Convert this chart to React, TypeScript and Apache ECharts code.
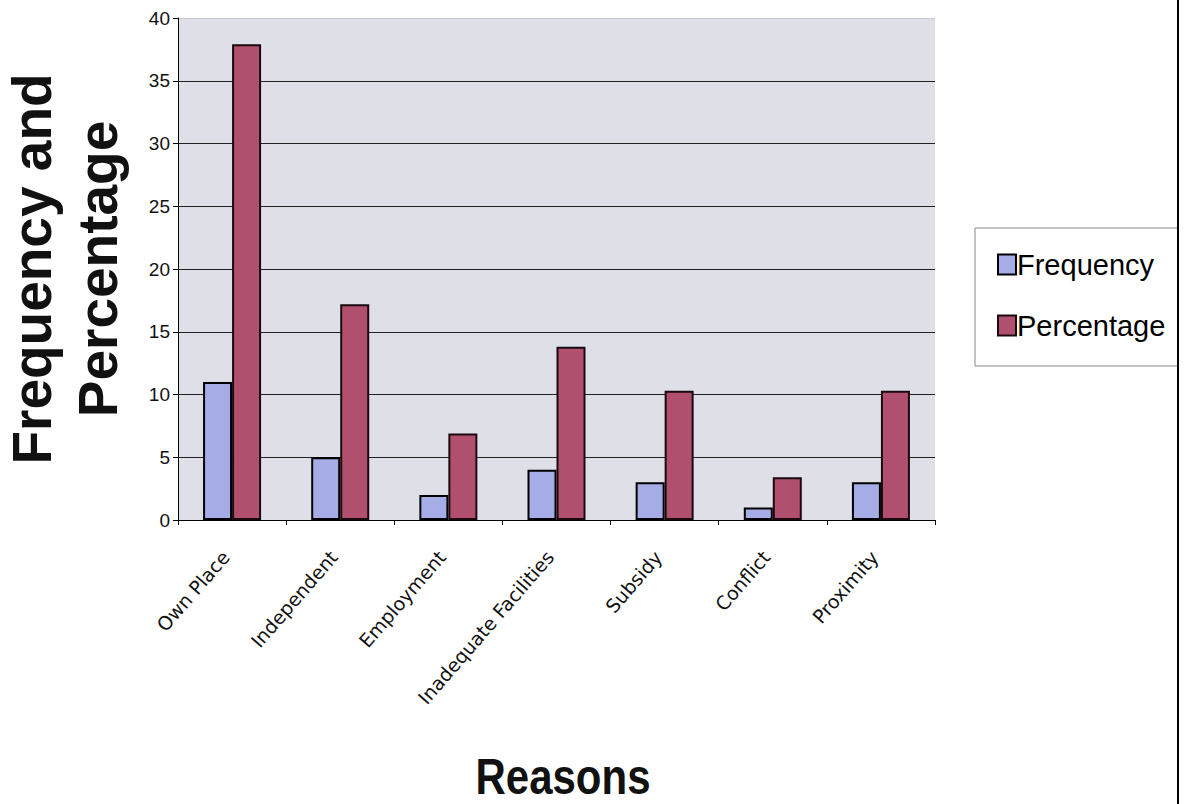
import React, { useEffect, useRef } from "react";
import * as echarts from "echarts";

const categories = ["Own Place", "Independent", "Employment", "Inadequate Facilities", "Subsidy", "Conflict", "Proximity"];
const frequency = [11, 5, 2, 4, 3, 1, 3];
const percentage = [37.9, 17.2, 6.9, 13.8, 10.3, 3.4, 10.3];
const yTicks = [0, 5, 10, 15, 20, 25, 30, 35, 40];

export default function App() {
  const ref = useRef<HTMLDivElement>(null);
  useEffect(() => {
    if (!ref.current) return;
    const chart = echarts.init(ref.current, null, { renderer: "svg" });
    const gridColors = yTicks.map((v, i) => (i === yTicks.length - 1 ? "#C8C8D0" : "#222"));
    chart.setOption({
      animation: false,
      textStyle: { fontFamily: "Liberation Sans, Arial, sans-serif" },
      grid: {
        left: 178,
        top: 18,
        right: 252,
        bottom: 284,
        show: true,
        backgroundColor: "#DFDFE8",
        borderWidth: 0,
      },
      legend: {
        orient: "vertical",
        left: 992,
        top: 245,
        itemWidth: 18,
        itemHeight: 20,
        itemGap: 32,
        icon: "rect",
        textStyle: { fontSize: 29, color: "#000", fontFamily: "Liberation Sans, Arial, sans-serif", padding: [0, 0, 0, -4] },
        data: ["Frequency", "Percentage"],
      },
      xAxis: {
        type: "category",
        data: categories,
        axisLine: { lineStyle: { color: "#000", width: 1 } },
        axisTick: { show: true, alignWithLabel: false, length: 5, lineStyle: { color: "#000" } },
        axisLabel: {
          rotate: 49,
          fontSize: 19,
          fontFamily: "DejaVu Sans, sans-serif",
          color: "#111",
          margin: 26,
          padding: [0, 10, 0, 0],
          interval: 0,
        },
      },
      yAxis: {
        type: "value",
        min: 0,
        max: 40,
        interval: 5,
        axisLine: { show: true, lineStyle: { color: "#000", width: 1 } },
        axisTick: { show: true, length: 5, lineStyle: { color: "#000" } },
        axisLabel: { fontSize: 19, color: "#111", margin: 8, formatter: (v: number) => (yTicks.includes(v) ? String(v) : "") },
        splitLine: { show: true, lineStyle: { color: gridColors, width: 1 } },
      },
      series: [
        {
          name: "Frequency",
          type: "bar",
          data: frequency,
          barWidth: 29,
          barGap: "0%",
          itemStyle: { color: "#A6ADE6", borderColor: "#000", borderWidth: 2 },
        },
        {
          name: "Percentage",
          type: "bar",
          data: percentage,
          barWidth: 29,
          barGap: "0%",
          itemStyle: { color: "#B0506E", borderColor: "#1a0a10", borderWidth: 2 },
        },
      ],
      graphic: [
        {
          type: "text",
          x: 65,
          y: 269,
          rotation: Math.PI / 2,
          style: {
            text: "Frequency and\nPercentage",
            fontSize: 55,
            fontWeight: "bold",
            fontFamily: "Liberation Sans, Arial, sans-serif",
            fill: "#111",
            align: "center",
            verticalAlign: "middle",
            lineHeight: 66,
          },
        },
        {
          type: "text",
          x: 563,
          y: 777,
          scaleX: 0.84,
          style: {
            text: "Reasons",
            fontSize: 50,
            lineHeight: 50,
            fontWeight: "bold",
            fontFamily: "Liberation Sans, Arial, sans-serif",
            fill: "#111",
            align: "center",
            verticalAlign: "middle",
          },
        },
        {
          type: "rect",
          shape: { x: 975, y: 228, width: 203, height: 138 },
          style: { fill: "none", stroke: "#888", lineWidth: 1 },
        },
        {
          type: "line",
          shape: { x1: 1178, y1: 0, x2: 1178, y2: 804 },
          style: { stroke: "#000", lineWidth: 2 },
        },
      ],
    });
    return () => chart.dispose();
  }, []);
  return <div ref={ref} style={{ width: 1187, height: 804, position: "absolute", left: 0, top: 0 }} />;
}
